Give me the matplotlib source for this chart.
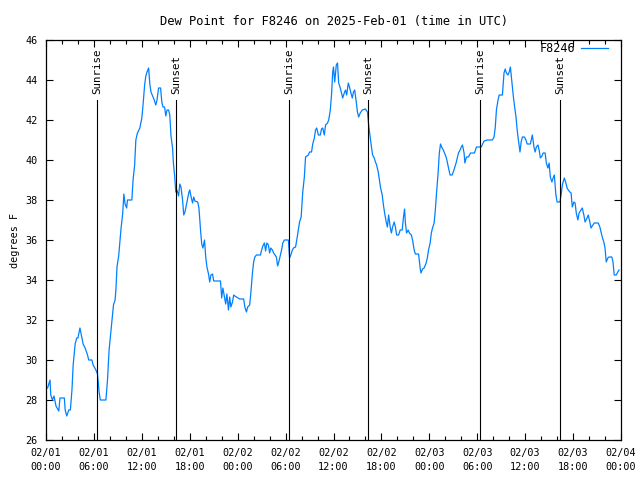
import numpy as np
import matplotlib
matplotlib.use("Agg")
import matplotlib.pyplot as plt
from matplotlib.ticker import MultipleLocator

plt.rcParams['font.family'] = 'DejaVu Sans Mono'
plt.rcParams['font.size'] = 7.3

# hours since 2025-02-01 00:00 UTC, dew point in F
hours = [0.0, 0.2, 0.5, 0.6, 0.8, 1.0, 1.25, 1.6, 1.75, 2.3, 2.4, 2.6, 2.85, 3.05, 3.25, 3.4,
         3.65, 3.85, 4.0, 4.25, 4.4, 4.65, 4.9, 5.2, 5.35, 5.75, 5.9, 6.25, 6.45, 6.65, 6.8, 7.5,
         7.7, 7.9, 8.1, 8.35, 8.45, 8.65, 8.75, 8.9, 9.1, 9.25, 9.4, 9.6, 9.75, 9.9, 10.1, 10.2,
         10.75, 10.9, 11.1, 11.25, 11.45, 11.75, 12.0, 12.15, 12.35, 12.5, 12.65, 12.85, 13.0,
         13.15, 13.35, 13.55, 13.75, 13.9, 14.1, 14.35, 14.5, 14.65, 14.85, 15.0, 15.15, 15.35,
         15.5, 15.65, 15.85, 15.95, 16.1, 16.25, 16.4, 16.6, 16.75, 16.9, 17.1, 17.25, 17.4,
         17.6, 17.9,
         18.0, 18.2, 18.35, 18.5, 18.65, 19.0, 19.15, 19.35, 19.5, 19.65, 19.85, 20.0, 20.15,
         20.35, 20.5, 20.65, 20.85, 21.0, 21.85, 22.0, 22.15, 22.35, 22.5, 22.65, 22.85, 23.0,
         23.15, 23.35, 23.5, 23.65, 24.25, 24.75, 24.9, 25.1, 25.25, 25.5, 25.65, 25.85, 26.0,
         26.15, 26.35, 26.85, 27.0, 27.15, 27.35, 27.5, 27.65, 27.85, 28.0, 28.15, 28.35, 28.5,
         28.85, 29.0, 29.15, 29.35, 29.5, 29.65, 29.85, 30.35, 30.5, 30.65, 30.85, 31.0, 31.25,
         31.4, 31.6, 31.75, 31.95, 32.15, 32.35, 32.5, 32.85, 33.0, 33.25, 33.4, 33.6, 33.75,
         33.9, 34.1, 34.35, 34.5, 34.65, 34.85, 35.0, 35.25, 35.4, 35.6, 35.75, 35.9,
         36.0, 36.15, 36.35, 36.5, 36.65, 36.85, 37.0, 37.15, 37.35, 37.5, 37.65, 37.85, 38.0,
         38.15, 38.35, 38.5, 38.65, 38.85, 39.0, 39.15, 39.35, 39.6, 40.0, 40.25, 40.4, 40.6,
         40.75, 40.9, 41.1, 41.25, 41.4, 41.6, 41.75, 41.9, 42.1, 42.25, 42.4, 42.6, 42.75,
         42.9, 43.1, 43.25, 43.4, 43.6, 43.75, 43.9, 44.15, 44.35, 44.6, 44.75, 44.9, 45.0,
         45.15, 45.35, 45.5, 45.75, 45.9, 46.1, 46.25, 46.65, 46.85, 46.95, 47.15, 47.35, 47.6,
         47.75, 47.9, 48.1, 48.25, 48.4, 48.6, 48.75, 48.9, 49.1, 49.25, 49.4, 49.6, 49.75,
         49.9, 50.1, 50.25, 50.4, 50.6, 50.85, 51.0, 51.15, 51.35, 51.5, 51.65, 51.85, 52.0,
         52.15, 52.35, 52.45, 52.65, 52.9, 53.15, 53.65, 53.9,
         54.0, 54.5, 54.85, 55.25, 55.9, 56.1, 56.25, 56.4, 56.6, 56.75, 57.15, 57.35, 57.5,
         57.65, 57.85, 58.0, 58.15, 58.35, 58.5, 58.65, 58.85, 59.0, 59.15, 59.35, 59.5, 59.65,
         59.9, 60.1, 60.25, 60.65, 60.85, 60.9, 61.1, 61.25, 61.4, 61.6, 61.75, 61.9, 62.1,
         62.25, 62.5, 62.65, 62.85, 63.0, 63.15, 63.35, 63.5, 63.65, 63.85, 64.0, 64.35, 64.5,
         64.65, 64.9, 65.1, 65.25, 65.4, 65.6, 65.75, 65.9, 66.1, 66.25, 66.4, 66.6, 66.75,
         67.0, 67.15, 67.35, 67.5, 67.75, 67.9, 68.1, 68.25, 68.4, 68.65, 69.15, 69.35, 69.5,
         69.65, 69.85, 70.0, 70.15, 70.35, 70.5, 70.85, 71.0, 71.15, 71.4, 71.6, 71.75]

dewpoint = [28.6, 28.6, 29.0, 28.25, 28.0, 28.2, 27.7, 27.45, 28.1, 28.1, 27.5, 27.2, 27.5, 27.5,
            28.5, 29.75, 30.8, 31.1, 31.1, 31.6, 31.3, 30.8, 30.6, 30.25, 30.0, 30.0, 29.75,
            29.5, 29.3, 28.4, 28.0, 28.0, 29.0, 30.5, 31.3, 32.3, 32.75, 33.0, 33.5, 34.7, 35.2,
            35.9, 36.6, 37.3, 38.3, 37.8, 37.6, 38.0, 38.0, 39.0, 39.75, 41.0, 41.35, 41.6, 42.1,
            42.75, 43.75, 44.2, 44.4, 44.6, 43.8, 43.4, 43.2, 43.0, 42.75, 43.0, 43.6, 43.6,
            42.9, 42.65, 42.65, 42.2, 42.5, 42.5, 42.25, 41.2, 40.6, 39.85, 39.25, 38.4, 38.5,
            38.2, 38.8, 38.65, 38.0, 37.25, 37.4, 37.8, 38.4,
            38.5, 38.1, 37.85, 38.15, 37.95, 37.9, 37.6, 36.5, 35.8, 35.6, 36.0, 35.15, 34.65,
            34.3, 33.9, 34.25, 34.3, 33.95, 33.95, 33.1, 33.6, 33.15, 32.8, 33.3, 32.5, 33.15,
            32.65, 32.9, 33.25, 33.2, 33.05, 33.05, 32.65, 32.4, 32.65, 32.75, 33.35, 34.35,
            34.9, 35.15, 35.25, 35.25, 35.5, 35.7, 35.85, 35.45, 35.85, 35.75, 35.35, 35.6, 35.5,
            35.35, 35.15, 34.7, 34.9, 35.25, 35.5, 35.85, 36.0, 36.0, 35.1, 35.25, 35.5, 35.6,
            35.65, 36.0, 36.5, 36.9, 37.15, 38.4, 39.15, 40.15, 40.25, 40.4, 40.4, 40.8, 41.1,
            41.5, 41.6, 41.25, 41.25, 41.55, 41.6, 41.25, 41.75, 41.85, 42.0, 42.5, 43.25, 44.4,
            44.65, 43.9, 44.75, 44.85, 43.85, 43.6, 43.35, 43.1, 43.35, 43.5, 43.25, 43.85, 43.65,
            43.4, 43.1, 43.4, 43.5, 42.9, 42.4, 42.15, 42.35, 42.5, 42.55, 42.4, 41.75, 41.1,
            40.65, 40.25, 40.1, 39.9, 39.75, 39.4, 39.0, 38.6, 38.25, 37.75, 37.35, 36.9, 36.65,
            37.25, 36.65, 36.35, 36.65, 36.9, 36.65, 36.25, 36.25, 36.5, 36.5, 37.1, 37.55, 36.85,
            36.35, 36.5, 36.35, 36.25, 36.0, 35.5, 35.3, 35.3, 34.6, 34.35, 34.55, 34.6, 34.85,
            35.1, 35.5, 35.85, 36.35, 36.6, 36.85, 37.5, 38.35, 39.35, 40.35, 40.8, 40.6, 40.5,
            40.35, 40.15, 39.9, 39.6, 39.25, 39.25, 39.4, 39.6, 39.85, 40.1, 40.35, 40.5, 40.65,
            40.75, 40.35, 39.85, 40.15, 40.15, 40.35, 40.35, 40.65,
            40.65, 40.65, 40.95, 41.0, 41.0, 41.15, 41.6, 42.5, 43.0, 43.25, 43.25, 44.35, 44.55,
            44.35, 44.25, 44.4, 44.65, 43.85, 43.25, 42.75, 42.15, 41.5, 41.0, 40.4, 40.9, 41.15,
            41.15, 41.0, 40.8, 40.8, 41.15, 41.25, 40.65, 40.4, 40.65, 40.75, 40.5, 40.1, 40.2,
            40.35, 40.35, 39.85, 39.6, 39.85, 39.15, 38.9, 39.1, 39.25, 38.25, 37.9, 37.9, 38.25,
            38.75, 39.1, 38.85, 38.6, 38.5, 38.4, 38.35, 37.65, 37.9, 37.85, 37.35, 37.0, 37.35,
            37.5, 37.6, 37.25, 36.9, 37.1, 37.25, 36.9, 36.6, 36.7, 36.85, 36.85, 36.65, 36.4,
            36.15, 35.9, 35.6, 34.9, 35.1, 35.15, 35.15, 34.9, 34.25, 34.25, 34.4, 34.5]

sunrise = [6.42, 30.43, 54.40]
sunset = [16.30, 40.32, 64.35]
tick_labels = ['02/01\n00:00', '02/01\n06:00', '02/01\n12:00', '02/01\n18:00',
               '02/02\n00:00', '02/02\n06:00', '02/02\n12:00', '02/02\n18:00',
               '02/03\n00:00', '02/03\n06:00', '02/03\n12:00', '02/03\n18:00',
               '02/04\n00:00']

fig = plt.figure(figsize=(6.4, 4.8), dpi=100)
ax = fig.add_axes([46 / 640, 40 / 480, 575 / 640, 400 / 480])

ax.plot(hours, dewpoint, color='#0080ff', lw=0.9, label='F8246')

for s in sunrise:
    ax.plot([s, s], [26, 43], color='black', lw=0.8)
    ax.text(s, 43.3, 'Sunrise', rotation=90, ha='center', va='bottom', fontsize=7.8)
for s in sunset:
    ax.plot([s, s], [26, 43], color='black', lw=0.8)
    ax.text(s, 43.3, 'Sunset', rotation=90, ha='center', va='bottom', fontsize=7.8)

ax.set_xlim(0, 72)
ax.set_ylim(26, 46)
ax.set_xticks(np.arange(0, 73, 6))
ax.set_xticklabels(tick_labels, linespacing=1.5)
ax.xaxis.set_minor_locator(MultipleLocator(2))
ax.set_yticks(np.arange(26, 47, 2))
ax.tick_params(axis='both', which='both', direction='in', top=True, right=True,
               width=0.8, color='black')
ax.tick_params(axis='both', which='major', length=5, pad=6)
ax.tick_params(axis='x', which='minor', length=3)
for sp in ax.spines.values():
    sp.set_linewidth(0.9)

ax.set_ylabel('degrees F', labelpad=4)
ax.set_title('Dew Point for F8246 on 2025-Feb-01 (time in UTC)', pad=11)
ax.legend(loc='upper right', bbox_to_anchor=(0.986, 1.007), frameon=False,
          markerfirst=False, handlelength=2.3, borderaxespad=0.0, handletextpad=0.5,
          fontsize=8.5)

fig.savefig('out.png', dpi=100)
